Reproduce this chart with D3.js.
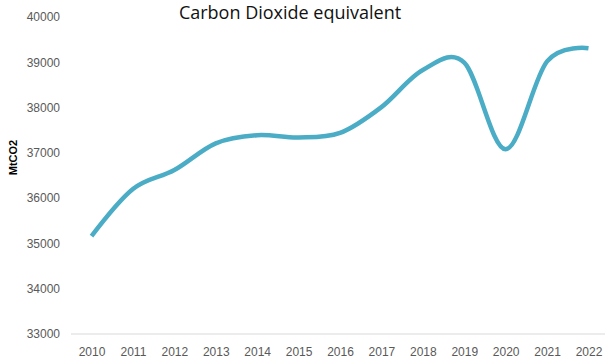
<!DOCTYPE html>
<html>
<head>
<meta charset="utf-8">
<script src="https://cdn.jsdelivr.net/npm/d3@7"></script>
<style>
  html, body { margin: 0; padding: 0; background: #ffffff; }
  svg { display: block; }
</style>
</head>
<body>
<svg id="chart" width="605" height="359"></svg>
<script>
// Emissions, MtCO2 equivalent, by year
const years = ["2010", "2011", "2012", "2013", "2014", "2015", "2016",
               "2017", "2018", "2019", "2020", "2021", "2022"];
const emissions = [35160, 36200, 36620, 37210, 37390, 37340, 37440,
                   38010, 38830, 38990, 37080, 39020, 39310];
const yTicks = [33000, 34000, 35000, 36000, 37000, 38000, 39000, 40000];

const title = "Carbon Dioxide equivalent";
const yLabel = "MtCO2";

const svg = d3.select("#chart");

const x = d3.scalePoint().domain(years).range([91.5, 588.5]);
const y = d3.scaleLinear().domain([33000, 40000]).range([334, 17]);

// category axis: a light rule along the bottom, year labels below it
svg.append("line")
  .attr("x1", 71).attr("x2", 605)
  .attr("y1", y(33000)).attr("y2", y(33000))
  .attr("stroke", "#d9d9d9").attr("stroke-width", 1.2);

const xAxis = svg.append("g")
  .attr("transform", `translate(0,${y(33000)})`)
  .call(d3.axisBottom(x).tickSize(0).tickPadding(13));
xAxis.select(".domain").remove();
xAxis.selectAll("text")
  .attr("fill", "#595959")
  .style("font-family", "'Liberation Sans', Arial, sans-serif")
  .style("font-size", "12px");

// value axis: labels only
const yAxis = svg.append("g")
  .attr("transform", "translate(60,0)")
  .call(d3.axisLeft(y).tickValues(yTicks).tickFormat(d3.format("d")).tickSize(0).tickPadding(0));
yAxis.select(".domain").remove();
yAxis.selectAll("text")
  .attr("fill", "#595959")
  .style("font-family", "'Liberation Sans', Arial, sans-serif")
  .style("font-size", "12px");

// axis title
svg.append("text")
  .attr("transform", `translate(17,${(y(33000) + y(40000)) / 2 - 18}) rotate(-90)`)
  .attr("text-anchor", "middle")
  .attr("fill", "#000000")
  .style("font-family", "'Liberation Sans', Arial, sans-serif")
  .style("font-weight", "bold")
  .style("font-size", "11px")
  .text(yLabel);

// chart title
svg.append("text")
  .attr("x", 290)
  .attr("y", 19)
  .attr("text-anchor", "middle")
  .attr("fill", "#111111")
  .style("font-family", "'Open Sans', sans-serif")
  .style("font-size", "18px")
  .text(title);

// smoothed series line
const line = d3.line()
  .x((d, i) => x(years[i]))
  .y(d => y(d))
  .curve(d3.curveCatmullRom.alpha(0));

svg.append("path")
  .datum(emissions)
  .attr("d", line)
  .attr("fill", "none")
  .attr("stroke", "#4bacc6")
  .attr("stroke-width", 4.5)
  .attr("stroke-linecap", "butt")
  .attr("stroke-linejoin", "round");
</script>
</body>
</html>
